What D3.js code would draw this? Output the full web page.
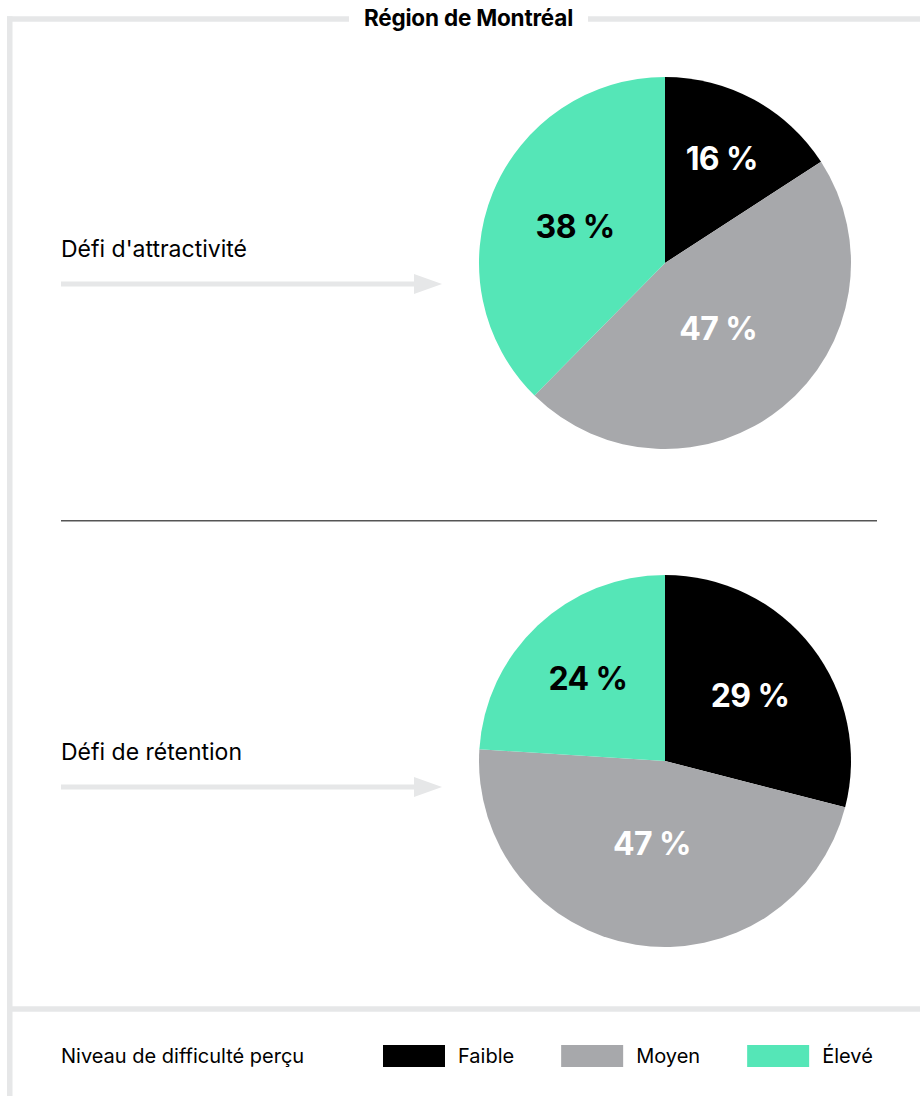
<!DOCTYPE html>
<html><head><meta charset="utf-8">
<script src="https://cdn.jsdelivr.net/npm/d3@7"></script>
<style>body{margin:0;background:#fff} svg{display:block}</style>
</head><body><svg id="c" width="920" height="1096"></svg>
<script>
const title = "Région de Montréal";
const categories = ["Faible", "Moyen", "Élevé"];
const challenges = ["Défi d'attractivité", "Défi de rétention"];
const attractivite = [16, 47, 38];
const retention = [29, 47, 24];
const legendTitle = "Niveau de difficulté perçu";

const colors = d3.scaleOrdinal().domain(categories).range(["#000000", "#a7a8ab", "#55e6b7"]);
const labelColors = d3.scaleOrdinal().domain(categories).range(["#ffffff", "#ffffff", "#000000"]);
const FONT = "Inter, 'Open Sans', sans-serif";
const svg = d3.select("#c");
const borderCol = "#e6e7e8";

// Title
const t = svg.append("text").attr("x", 468.5).attr("y", 25.7).attr("text-anchor", "middle")
  .attr("font-family", FONT).attr("font-weight", 700).attr("font-size", 22.5).attr("fill", "#000")
  .attr("letter-spacing", -0.2).text(title);
const bb = t.node().getBBox();

// Border lines
const bw = 5.5, bx = 9.75, by = 19;
svg.append("line").attr("x1", bx - bw/2).attr("x2", bb.x - 15).attr("y1", by).attr("y2", by)
  .attr("stroke", borderCol).attr("stroke-width", bw);
svg.append("line").attr("x1", bb.x + bb.width + 15).attr("x2", 920).attr("y1", by).attr("y2", by)
  .attr("stroke", borderCol).attr("stroke-width", bw);
svg.append("line").attr("x1", bx).attr("x2", bx).attr("y1", by - bw/2).attr("y2", 1096)
  .attr("stroke", borderCol).attr("stroke-width", bw);
svg.append("line").attr("x1", bx).attr("x2", 920).attr("y1", 1009).attr("y2", 1009)
  .attr("stroke", borderCol).attr("stroke-width", bw);

// Divider
svg.append("line").attr("x1", 61).attr("x2", 877).attr("y1", 520.8).attr("y2", 520.8)
  .attr("stroke", "#555").attr("stroke-width", 1.4);

const R = 186, cx = 665;
const centersY = [263, 761];
const blockY = [263, 766];
const pie = d3.pie().sort(null).value(d => d.v);
const arc = d3.arc().innerRadius(0).outerRadius(R);
// label at the area centroid of each sector
function labelPos(d) {
  const th = d.endAngle - d.startAngle;
  const r = 4 * R * Math.sin(th / 2) / (3 * th);
  const a = (d.startAngle + d.endAngle) / 2;
  return [r * Math.sin(a), -r * Math.cos(a)];
}

[attractivite, retention].forEach((vals, i) => {
  const cy = centersY[i];
  const data = vals.map((v, k) => ({ cat: categories[k], v }));
  const g = svg.append("g").attr("transform", `translate(${cx},${cy})`);
  const arcs = pie(data);
  g.selectAll("path").data(arcs).join("path")
    .attr("d", arc).attr("fill", d => colors(d.data.cat));
  g.selectAll("text").data(arcs).join("text")
    .attr("transform", d => `translate(${labelPos(d)})`)
    .attr("text-anchor", "middle").attr("dy", "0.36em")
    .attr("font-family", FONT).attr("font-weight", 700).attr("font-size", 32)
    .attr("letter-spacing", -0.6)
    .attr("fill", d => labelColors(d.data.cat))
    .text(d => d.data.v + " %");

  // label + arrow
  const byy = blockY[i];
  svg.append("text").attr("x", 61).attr("y", byy - 6.3)
    .attr("font-family", FONT).attr("font-size", 23).attr("fill", "#000")
    .text(challenges[i]);
  const ay = byy + 21;
  svg.append("line").attr("x1", 61).attr("x2", 416).attr("y1", ay).attr("y2", ay)
    .attr("stroke", borderCol).attr("stroke-width", 5);
  svg.append("path").attr("d", `M414,${ay - 10}L442,${ay}L414,${ay + 10}Z`).attr("fill", borderCol);
});

// Legend
const ly = 1056;
svg.append("text").attr("x", 61).attr("y", ly).attr("dy", "0.36em")
  .attr("font-family", FONT).attr("font-size", 20).attr("fill", "#000").attr("letter-spacing", 0)
  .text(legendTitle);
let lx = 383;
categories.forEach(c => {
  svg.append("rect").attr("x", lx).attr("y", ly - 11).attr("width", 62).attr("height", 22).attr("fill", colors(c));
  const tt = svg.append("text").attr("x", lx + 75).attr("y", ly).attr("dy", "0.36em")
    .attr("font-family", FONT).attr("font-size", 20).attr("fill", "#000").text(c);
  lx = lx + 75 + tt.node().getComputedTextLength() + 47;
});
</script></body></html>
